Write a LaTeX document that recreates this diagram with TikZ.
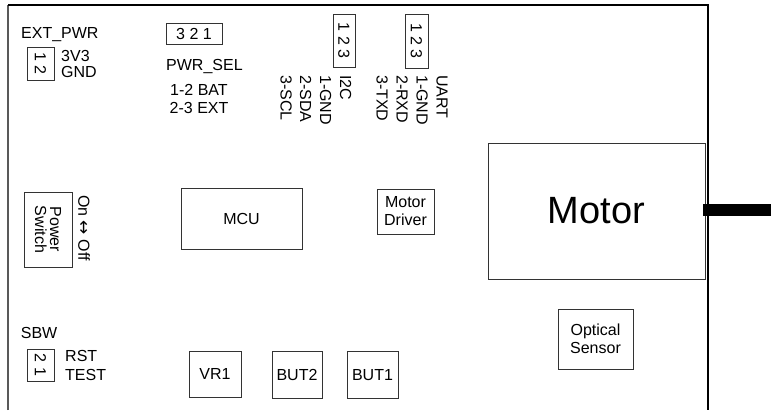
\documentclass[tikz,border=0pt]{standalone}
\usepackage{fontspec}
\setmainfont{Liberation Sans}
\newfontfamily\symfont{DejaVu Sans}
\begin{document}
\begin{tikzpicture}[x=1pt,y=-1pt,
  box/.style={draw=black!80, line width=0.9pt, inner sep=0pt, font=\fontsize{16}{18}\selectfont, align=center},
  rbox/.style={box, rotate=-90},
  lbl/.style={inner sep=0pt, font=\fontsize{16}{18}\selectfont, anchor=base west},
  rlbl/.style={lbl, rotate=-90},
  edge/.style={line width=1.5pt}
]
\useasboundingbox (0,0) rectangle (771,410);
% board outline
\draw[edge, black!65] (8,410) -- (8,5);
\draw[edge] (8,5) -- (708,5) -- (708,410);

% EXT_PWR
\node[lbl] (extpwr) at (21,38.5) {EXT\_PWR};
\node[rbox, minimum width=33, minimum height=27] (extbox) at (40.5,63.5) {1 2};
\node[lbl] (v33) at (61,61) {3V3};
\node[lbl] (gnd) at (61,77.5) {GND};

% PWR_SEL
\node[box, minimum width=56, minimum height=21] (selbox) at (194,33.5) {3 2 1};
\node[lbl] (pwrsel) at (166,70) {PWR\_SEL};
\node[lbl] (bat) at (170,95) {1-2 BAT};
\node[lbl] (ext) at (169.5,113.3) {2-3 EXT};

% I2C
\node[rbox, minimum width=53, minimum height=22] (i2cbox) at (344,40.5) {1 2 3};
\node[rlbl] (i2ca) at (340,75) {I2C};
\node[rlbl] (i2cb) at (320,75) {1-GND};
\node[rlbl] (i2cc) at (300,75) {2-SDA};
\node[rlbl] (i2cd) at (280.5,75) {3-SCL};

% UART
\node[rbox, minimum width=54, minimum height=23] (uartbox) at (416.5,41) {1 2 3};
\node[rlbl] (uarta) at (436.7,75) {UART};
\node[rlbl] (uartb) at (416.7,75) {1-GND};
\node[rlbl] (uartc) at (396.7,75) {2-RXD};
\node[rlbl] (uartd) at (376.7,75) {3-TXD};

% power switch
\node[rbox, minimum width=75, minimum height=48, font=\fontsize{16}{15}\selectfont] (pwrsw) at (48,229.5) {Power\\Switch};
\node[rlbl] (onoff) at (78.3,195) {On {\symfont\fontsize{17}{17}\selectfont ↔} Off};

% main blocks
\node[box, minimum width=121, minimum height=61] (mcu) at (241.5,218.5) {MCU};
\node[box, minimum width=57, minimum height=45] (drv) at (405.5,211.5) {Motor\\Driver};
\node[box, minimum width=217, minimum height=136, font=\fontsize{38}{40}\selectfont] (motor) at (596.5,211) {Motor};
\fill (703,203.5) rectangle (771,215.5);
\node[box, minimum width=75, minimum height=60] (opt) at (595.5,339) {Optical\\Sensor};

% SBW
\node[lbl] (sbw) at (20.7,338.3) {SBW};
\node[rbox, minimum width=32, minimum height=27] (sbwbox) at (40.5,365) {2 1};
\node[lbl] (rst) at (65,361.7) {RST};
\node[lbl] (test) at (65,380) {TEST};

% bottom parts
\node[box, minimum width=52, minimum height=46] (vr1) at (215,374) {VR1};
\node[box, minimum width=50, minimum height=47] (but2) at (297,375) {BUT2};
\node[box, minimum width=51, minimum height=47] (but1) at (372.5,375) {BUT1};
\end{tikzpicture}
\end{document}
